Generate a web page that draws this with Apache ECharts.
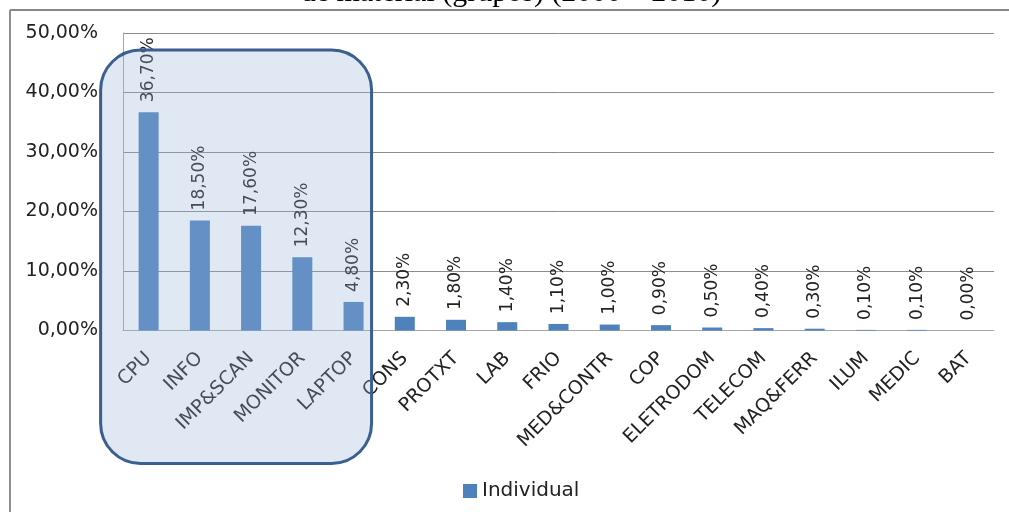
<!DOCTYPE html>
<html>
<head>
<meta charset="utf-8">
<script src="https://cdn.jsdelivr.net/npm/echarts@6/dist/echarts.min.js"></script>
<style>
  html, body { margin: 0; padding: 0; background: #ffffff; overflow: hidden; }
  #chart { width: 1009px; height: 512px; }
</style>
</head>
<body>
<div id="chart"></div>
<script>
// Share of discarded material by group (percent)
const categories = ['CPU', 'INFO', 'IMP&SCAN', 'MONITOR', 'LAPTOP', 'CONS', 'PROTXT', 'LAB', 'FRIO',
  'MED&CONTR', 'COP', 'ELETRODOM', 'TELECOM', 'MAQ&FERR', 'ILUM', 'MEDIC', 'BAT'];
const individual = [36.7, 18.5, 17.6, 12.3, 4.8, 2.3, 1.8, 1.4, 1.1, 1.0, 0.9, 0.5, 0.4, 0.3, 0.1, 0.1, 0.0];
const yMin = 0;
const yMax = 50;
const yStep = 10;
const seriesName = 'Individual';
const titleText = 'de material (grupos) (2000 – 2010)';
// groups enclosed by the highlight box (first and last)
const highlightFrom = 'CPU';
const highlightTo = 'LAPTOP';

const pct = v => v.toFixed(2).replace('.', ',') + '%';
const FONT = 'DejaVu Sans';

const chart = echarts.init(document.getElementById('chart'), null, { renderer: 'canvas' });

chart.setOption({
  animation: false,
  backgroundColor: '#ffffff',
  grid: { left: 123, right: 15, top: 33, bottom: 181.5, containLabel: false },
  legend: {
    data: [seriesName],
    left: 458,
    top: 476,
    icon: 'rect',
    itemWidth: 14,
    itemHeight: 14,
    textStyle: { fontFamily: FONT, fontSize: 20, color: '#222' }
  },
  xAxis: {
    type: 'category',
    data: categories,
    axisLine: { show: true, lineStyle: { color: '#a6a6a6', width: 1 } },
    axisTick: { show: false },
    axisLabel: {
      interval: 0,
      rotate: 45,
      margin: 25,
      fontFamily: FONT,
      fontSize: 19,
      color: '#222'
    }
  },
  yAxis: {
    type: 'value',
    min: yMin,
    max: yMax,
    interval: yStep,
    axisLine: { show: true, lineStyle: { color: '#a6a6a6', width: 1 } },
    axisTick: { show: false },
    splitLine: { lineStyle: { color: '#8c8c8c', width: 1 } },
    axisLabel: {
      margin: 25,
      fontFamily: FONT,
      fontSize: 19,
      color: '#222',
      formatter: v => pct(v)
    }
  },
  series: [{
    name: seriesName,
    type: 'bar',
    data: individual,
    barWidth: 20,
    itemStyle: { color: '#4f81bd' },
    label: {
      show: true,
      position: 'top',
      distance: 10,
      rotate: 90,
      align: 'left',
      verticalAlign: 'middle',
      fontFamily: FONT,
      fontSize: 17,
      color: '#222',
      formatter: p => pct(p.value)
    }
  }]
});

// Frame, cut title and the rounded highlight around the leading groups
const xa = chart.convertToPixel({ xAxisIndex: 0 }, highlightFrom);
const xb = chart.convertToPixel({ xAxisIndex: 0 }, highlightTo);
const yTop = chart.convertToPixel({ yAxisIndex: 0 }, yMax);
const yZero = chart.convertToPixel({ yAxisIndex: 0 }, yMin);
const boxLeft = xa - 48;
const boxRight = xb + 18;
const boxTop = yTop + 17;
const boxBottom = yZero + 133;

chart.setOption({
  graphic: [
    {
      type: 'text',
      z: 100,
      style: {
        text: titleText,
        x: 511,
        y: 8,
        align: 'center',
        verticalAlign: 'bottom',
        font: '30px "Liberation Serif"',
        fill: '#000'
      }
    },
    {
      type: 'line',
      z: 100,
      shape: { x1: 10, y1: 10, x2: 1009, y2: 10 },
      style: { stroke: '#878787', lineWidth: 2 }
    },
    {
      type: 'line',
      z: 100,
      shape: { x1: 10, y1: 10, x2: 10, y2: 512 },
      style: { stroke: '#8f8f8f', lineWidth: 2 }
    },
    {
      type: 'rect',
      z: 100,
      shape: { x: boxLeft, y: boxTop, width: boxRight - boxLeft, height: boxBottom - boxTop, r: 40 },
      style: { fill: 'rgba(149,179,215,0.30)', stroke: '#3b5f8e', lineWidth: 3 }
    }
  ]
});
</script>
</body>
</html>
